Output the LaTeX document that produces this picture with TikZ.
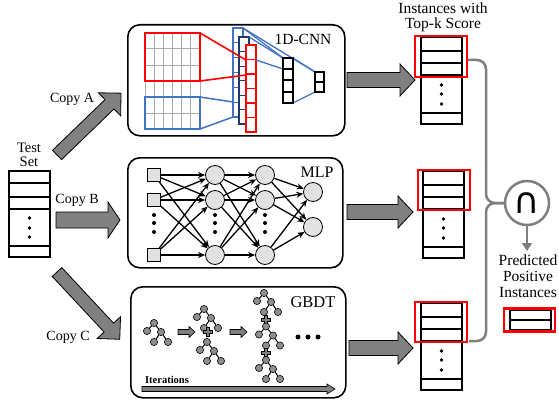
\documentclass[tikz,border=0pt]{standalone}
\usepackage{fontspec}
\setmainfont{Liberation Serif}
\newfontfamily\symfont{DejaVu Sans}
\usetikzlibrary{arrows.meta}
\definecolor{cnnblue}{HTML}{4472C4}
\definecolor{cnnnavy}{HTML}{1F3864}
\definecolor{arrgray}{HTML}{808080}
\definecolor{nodegray}{HTML}{E2E2E2}
\definecolor{linegray}{HTML}{7F7F7F}
\definecolor{treegray}{HTML}{8E8E8E}
\newcommand{\blkarr}[8][]{%
  \draw[blockarr,#1, shift={(#2,#3)}, rotate=#4] (0,-#6) -- ({#5-#8},-#6) -- ({#5-#8},-#7) -- (#5,0) -- ({#5-#8},#7) -- ({#5-#8},#6) -- (0,#6) -- cycle;}
\newcommand{\rtable}[2]{%
  \draw[tbl] (#1,#2) rectangle ({#1+41},{#2+87});
  \foreach \d in {14,26,38,76} \draw[tbl] (#1,{#2+\d}) -- ({#1+41},{#2+\d});
  \foreach \d in {48,57,67} \fill ({#1+20.5},{#2+\d}) circle (1.8);}
\newcommand{\plusg}[2]{%
  \draw[blockarr, line width=0.5pt, shift={(#1,#2)}] (-1.7,-4.7) -- (1.7,-4.7) -- (1.7,-1.7) -- (4.7,-1.7) -- (4.7,1.7) -- (1.7,1.7) -- (1.7,4.7) -- (-1.7,4.7) -- (-1.7,1.7) -- (-4.7,1.7) -- (-4.7,-1.7) -- (-1.7,-1.7) -- cycle;}
\newcommand{\gtree}[3]{%
  \node[tnode] (#3r) at (#1,#2) {};
  \node[tnode] (#3l) at ({#1-7},{#2+8}) {};
  \node[tnode] (#3m) at ({#1+7},{#2+9}) {};
  \node[tnode] (#3a) at (#1,{#2+19}) {};
  \node[tnode] (#3b) at ({#1+14},{#2+19}) {};
  \draw[tedge] (#3r) -- (#3l); \draw[tedge] (#3r) -- (#3m);
  \draw[tedge] (#3m) -- (#3a); \draw[tedge] (#3m) -- (#3b);}
\begin{document}
\begin{tikzpicture}[x=1pt,y=-1pt,
  modelbox/.style={draw, line width=1.6pt, rounded corners=12pt, inner sep=0},
  blockarr/.style={draw=black, fill=arrgray, line width=0.8pt, line join=miter},
  tbl/.style={line width=1.5pt},
  redbox/.style={draw=red, line width=2pt},
  lbl/.style={font=\fontsize{14}{14}\selectfont, inner sep=0},
  ttl/.style={font=\fontsize{15.5}{15.5}\selectfont, inner sep=0},
  gridc/.style={draw=gray!65, line width=1pt},
  mlpin/.style={draw, fill=nodegray, minimum size=13pt, inner sep=0, line width=0.8pt},
  mlpn/.style={circle, draw, fill=nodegray, minimum size=19pt, inner sep=0, line width=0.8pt},
  mlparr/.style={-{Stealth[length=7pt,width=6pt]}, line width=1.3pt},
  tnode/.style={circle, draw, fill=treegray, inner sep=0, minimum size=7.2pt, line width=0.6pt},
  tedge/.style={line width=1pt},
  fan/.style={cnnblue, line width=1.3pt}]
\useasboundingbox (0,0) rectangle (559,404);

% ---------- model boxes ----------
\node[modelbox, anchor=north west, minimum width=217pt, minimum height=111pt] (cnnbox) at (127,24) {};
\node[modelbox, anchor=north west, minimum width=215pt, minimum height=110pt] (mlpbox) at (127,157) {};
\node[modelbox, anchor=north west, minimum width=215pt, minimum height=111pt] (gbdtbox) at (130,286) {};

% ---------- test set ----------
\node[lbl, align=center, font=\fontsize{14.5}{14}\selectfont] (testlbl) at (29,155) {Test\\Set};
\draw[tbl] (9,171) rectangle (50,257);
\foreach \d in {12,26,38,75} \draw[tbl] (9,{171+\d}) -- (50,{171+\d});
\foreach \d in {47,57,66} \fill (29.5,{171+\d}) circle (1.8);

% ---------- copy arrows ----------
\blkarr{57}{155}{44}{89}{6.5}{16}{16}
\blkarr{56}{220}{0}{64}{8}{18}{12}
\blkarr{57}{272}{-47}{92}{6.5}{16}{16}
\node[lbl] (copya) at (72,99) {Copy A};
\node[lbl] (copyb) at (77,200) {Copy B};
\node[lbl] (copyc) at (68,337) {Copy C};

% ---------- 1D-CNN ----------
\foreach \i in {0,...,6} \draw[gridc] ({145+\i*55/6},33) -- ({145+\i*55/6},129);
\foreach \j in {0,...,6} \draw[gridc] (145,{33+\j*16}) -- (200,{33+\j*16});
\draw[red, line width=2pt] (145,33) rectangle (200,81);
\draw[cnnblue, line width=2pt] (145,97) rectangle (200,129);
\draw[cnnblue, line width=1.5pt, fill=white] (233,28) rectangle (243,117);
\foreach \k in {1,...,5} \draw[cnnblue, line width=1pt] (233,{28+\k*89/6}) -- (243,{28+\k*89/6});
\draw[cnnblue, line width=1.5pt] (200,97) -- (233,102);
\draw[cnnblue, line width=1.5pt] (200,129) -- (233,117);
\draw[cnnnavy, line width=1.5pt, fill=white] (239,37) rectangle (249,124);
\foreach \k in {1,...,5} \draw[cnnnavy, line width=1pt] (239,{37+\k*87/6}) -- (249,{37+\k*87/6});
\draw[red, line width=1.6pt] (200,33) -- (246,60);
\draw[red, line width=1.6pt] (200,81) -- (246,75);
\draw[red, line width=1.8pt, fill=white] (246,45) rectangle (256,132);
\foreach \k in {1,...,5} \draw[red, line width=1.2pt] (246,{45+\k*14.5}) -- (256,{45+\k*14.5});
\draw[fan] (243,28) -- (283,58);
\draw[fan] (249,37) -- (283,58);
\draw[fan] (243,28) -- (315,72);
\draw[fan] (256,60) -- (283,69);
\draw[fan] (293,58) -- (315,72);
\draw[fan] (293,103) -- (315,92);
\draw[line width=1.6pt, fill=white] (283,58) rectangle (293,103);
\foreach \d in {69,80,92} \draw[line width=1.3pt] (283,\d) -- (293,\d);
\draw[line width=1.4pt, fill=white] (315,72) rectangle (324,92);
\draw[line width=1.2pt] (315,82) -- (324,82);
\node[ttl] (cnnlbl) at (303,39) {1D-CNN};

% ---------- MLP ----------
\foreach \n/\y in {1/175,2/200,3/255} {
  \node[mlpin] (i\n) at (154,\y) {};
  \node[mlpn] (a\n) at (215,\y) {};
  \node[mlpn] (b\n) at (265,\y) {};
}
\node[mlpn] (o1) at (313,192) {};
\node[mlpn] (o2) at (313,227) {};
\foreach \s in {1,2,3} \foreach \t in {1,2,3} {
  \draw[mlparr] (i\s) -- (a\t);
  \draw[mlparr] (a\s) -- (b\t);
}
\foreach \s in {1,2,3} \foreach \t in {1,2} \draw[mlparr] (b\s) -- (o\t);
\foreach \x in {154,215,265} \foreach \y in {215,223,232} \fill (\x,\y) circle (2);
\node[ttl, font=\fontsize{16}{16}\selectfont] (mlplbl) at (317,172) {MLP};

% ---------- GBDT ----------
\gtree{154}{323}{ta}
\blkarr[line width=0.6pt]{178}{332}{0}{17}{2.5}{5.5}{6}
\gtree{204}{309}{tb}
\plusg{208}{332}
\gtree{207}{342}{tc}
\blkarr[line width=0.6pt]{230}{332}{0}{17}{2.5}{5.5}{6}
\gtree{264}{293}{td}
\plusg{266}{319.5}
\gtree{266}{326.5}{te}
\plusg{266}{353}
\gtree{266}{360}{tf}
\foreach \x in {298,308,318} \fill (\x,337) circle (2.5);
\node[ttl, font=\fontsize{16.5}{16.5}\selectfont] (gbdtlbl) at (313,302) {GBDT};
\node[inner sep=0, font=\fontsize{10.5}{10.5}\selectfont\bfseries] (iterlbl) at (167,380) {Iterations};
\blkarr[line width=0.6pt]{142}{389}{0}{193}{2.5}{5}{8}

% ---------- output arrows ----------
\blkarr{347}{80}{0}{68}{7.5}{16}{15}
\blkarr{347}{212}{0}{66}{7.5}{16}{15}
\blkarr{349}{348}{0}{64}{7.5}{16}{15}

% ---------- result tables ----------
\node[ttl, align=center, font=\fontsize{15.5}{15}\selectfont] (toplbl) at (443,17) {Instances with\\Top-k Score};
\rtable{421}{37}
\draw[redbox] (415,36) rectangle (467,77);
\rtable{423}{171}
\draw[redbox] (418,170) rectangle (470,210);
\rtable{421}{303}
\draw[redbox] (415,302) rectangle (467,342);

% ---------- intersection ----------
\node[circle, draw=linegray, line width=2.5pt, minimum size=44pt, inner sep=0] (inter) at (527,203) {\symfont\fontsize{36}{36}\selectfont ∩};
\coordinate (t1out) at (468,60);
\coordinate (t3out) at (469,341);
\draw[linegray, line width=2.5pt, rounded corners=9pt] (t1out) -- (486,60) -- (486,203) -- (inter.west);
\draw[linegray, line width=2.5pt, rounded corners=9pt] (t3out) -- (486,341) -- (486,203) -- (inter.west);
\coordinate (predtip) at (527,251);
\draw[linegray, line width=2.5pt, -{Triangle[length=8pt,width=10pt]}] (inter.south) -- (predtip);
\node[ttl, align=center, font=\fontsize{15.5}{16}\selectfont] (pred) at (528,276) {Predicted\\Positive\\Instances};
\draw[line width=1.5pt] (510,310) rectangle (551,330);
\draw[line width=1.5pt] (510,320) -- (551,320);
\draw[redbox, line width=2.5pt] (504,308.5) rectangle (555,331.5);
\end{tikzpicture}
\end{document}
